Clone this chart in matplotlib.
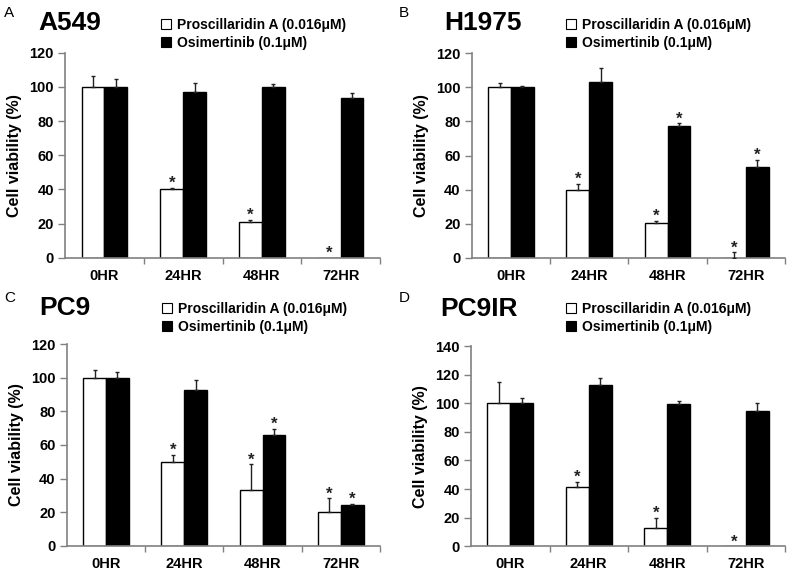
import matplotlib
matplotlib.use("Agg")
import matplotlib.pyplot as plt
from matplotlib.patches import Patch
import numpy as np

plt.rcParams['font.family'] = ['Liberation Sans', 'DejaVu Sans']

categories = ["0HR", "24HR", "48HR", "72HR"]
series_names = ["Proscillaridin A (0.016\u03bcM)", "Osimertinib (0.1\u03bcM)"]

# Panel A: A549
a549_pro = [100, 40, 20.7, 0]
a549_pro_err = [6.2, 1.0, 1.4, 0]
a549_osi = [100, 96.8, 99.7, 93.3]
a549_osi_err = [4.4, 5.5, 2.2, 2.9]
a549_pro_star = [False, True, True, True]
a549_osi_star = [False, False, False, False]

# Panel B: H1975
h1975_pro = [100, 39.7, 20.6, 0]
h1975_pro_err = [2.8, 3.8, 1.2, 3.1]
h1975_osi = [100, 103, 77.5, 53.4]
h1975_osi_err = [0.8, 8.2, 1.4, 4.0]
h1975_pro_star = [False, True, True, True]
h1975_osi_star = [False, False, True, True]

# Panel C: PC9
pc9_pro = [100, 50, 33.4, 20.0]
pc9_pro_err = [4.5, 4.2, 15.0, 8.2]
pc9_osi = [100, 93.0, 65.8, 24.2]
pc9_osi_err = [3.5, 6.0, 3.8, 0.6]
pc9_pro_star = [False, True, True, True]
pc9_osi_star = [False, False, True, True]

# Panel D: PC9IR
pc9ir_pro = [100, 41.5, 12.6, 0]
pc9ir_pro_err = [15.0, 3.6, 7.0, 0]
pc9ir_osi = [100, 112.5, 99.5, 94.8]
pc9ir_osi_err = [4.0, 4.8, 1.8, 5.5]
pc9ir_pro_star = [False, True, True, True]
pc9ir_osi_star = [False, False, False, False]

panel_letters = ["A", "B", "C", "D"]
panel_titles = ["A549", "H1975", "PC9", "PC9IR"]
y_maxes = [120, 120, 120, 140]

panels = [
    (a549_pro, a549_pro_err, a549_osi, a549_osi_err, a549_pro_star, a549_osi_star),
    (h1975_pro, h1975_pro_err, h1975_osi, h1975_osi_err, h1975_pro_star, h1975_osi_star),
    (pc9_pro, pc9_pro_err, pc9_osi, pc9_osi_err, pc9_pro_star, pc9_osi_star),
    (pc9ir_pro, pc9ir_pro_err, pc9ir_osi, pc9ir_osi_err, pc9ir_pro_star, pc9ir_osi_star),
]

W, H = 790, 573
fig = plt.figure(figsize=(7.9, 5.73), dpi=100)

# axes boxes in pixel coordinates: left, right, top, bottom
boxes = [
    (65, 380, 52.7, 257.7),
    (471.7, 785, 53.3, 257.7),
    (66.7, 380, 344.3, 545.7),
    (471, 785, 346, 546.3),
]
letter_pos = [(4, 13), (399, 13), (4, 298), (399, 298)]
title_pos = [(38, 23), (444, 23), (39, 308), (440, 309)]
legend_pos = [(161, 18), (566, 18), (162, 302), (566, 302)]

spine_col = '#808080'
bw = 0.29

for i, (pro, pro_e, osi, osi_e, pro_s, osi_s) in enumerate(panels):
    l, r, t, b = boxes[i]
    ax = fig.add_axes([l / W, 1 - b / H, (r - l) / W, (b - t) / H])
    x = np.arange(len(categories))
    ax.bar(x - bw / 2, pro, bw, color='white', edgecolor='black', linewidth=1.0, zorder=2)
    ax.bar(x + bw / 2, osi, bw, color='black', edgecolor='black', linewidth=1.0, zorder=2)
    for xs, vals, errs in ((x - bw / 2, pro, pro_e), (x + bw / 2, osi, osi_e)):
        for xi, v, e in zip(xs, vals, errs):
            if e > 0:
                ax.errorbar([xi], [v], yerr=[[0], [e]], fmt='none', ecolor='#222222',
                            elinewidth=1.0, capsize=1.5, capthick=1.0, zorder=3)
    for xs, vals, errs, stars in ((x - bw / 2, pro, pro_e, pro_s), (x + bw / 2, osi, osi_e, osi_s)):
        for xi, v, e, s in zip(xs, vals, errs, stars):
            if s:
                ax.annotate('*', xy=(xi, v + e), xytext=(0, 0), textcoords='offset points',
                            ha='center', va='baseline', fontsize=12, fontweight='bold', color='#222222')
    ax.set_xlim(-0.5, 3.5)
    ax.set_ylim(0, y_maxes[i])
    ax.set_yticks(np.arange(0, y_maxes[i] + 1, 20))
    ax.set_xticks(x)
    ax.set_xticklabels(categories)
    ax.set_xticks(np.arange(0.5, 3.6, 1.0), minor=True)
    ax.tick_params(axis='x', which='major', length=0, pad=8, labelsize=10.5)
    ax.tick_params(axis='x', which='minor', length=4, width=1, color=spine_col, direction='out')
    ax.tick_params(axis='y', which='major', length=5, width=1, color=spine_col, direction='out', labelsize=10.5, pad=3)
    for lab in ax.get_xticklabels() + ax.get_yticklabels():
        lab.set_fontweight('bold')
    for sp in ('top', 'right'):
        ax.spines[sp].set_visible(False)
    for sp in ('left', 'bottom'):
        ax.spines[sp].set_color(spine_col)
        ax.spines[sp].set_linewidth(1.2)
    ax.set_ylabel('Cell viability (%)', fontsize=11.5, fontweight='bold', labelpad=5)

    lx, ly = letter_pos[i]
    fig.text(lx / W, 1 - ly / H, panel_letters[i], fontsize=11, ha='left', va='center')
    tx, ty = title_pos[i]
    fig.text(tx / W, 1 - ty / H, panel_titles[i], fontsize=19, fontweight='bold', ha='left', va='center')
    gx, gy = legend_pos[i]
    handles = [Patch(facecolor='white', edgecolor='black', linewidth=0.8),
               Patch(facecolor='black', edgecolor='black', linewidth=0.8)]
    leg = ax.legend(handles, series_names, loc='upper left', bbox_to_anchor=(gx / W, 1 - gy / H),
                    bbox_transform=fig.transFigure, frameon=False, fontsize=10,
                    handlelength=0.75, handleheight=0.75, handletextpad=0.4,
                    labelspacing=0.3, borderpad=0, borderaxespad=0)
    for txt in leg.get_texts():
        txt.set_fontweight('bold')

fig.savefig('out.png', dpi=100)
